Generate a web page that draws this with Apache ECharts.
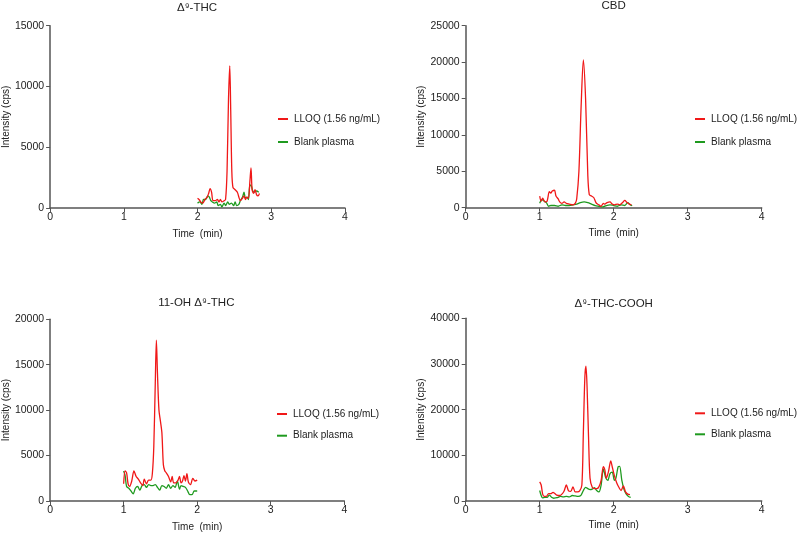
<!DOCTYPE html>
<html>
<head>
<meta charset="utf-8">
<script src="https://cdn.jsdelivr.net/npm/echarts@6/dist/echarts.min.js"></script>
<style>html,body{margin:0;padding:0;background:#fff}#c{width:800px;height:533px}</style>
</head>
<body>
<div id="c"></div>
<script>
// ---- Data (time in min, intensity in cps) ----
const seriesNames = ['LLOQ (1.56 ng/mL)', 'Blank plasma'];
const panelTitles = ['\u0394\u2079-THC', 'CBD', '11-OH \u0394\u2079-THC', '\u0394\u2079-THC-COOH'];
const yMax = [15000, 25000, 20000, 40000];
const yInterval = [5000, 5000, 5000, 10000];
const xTicks = [0, 1, 2, 3, 4];

// Δ9-THC
const thcLloqT = [2.00,2.02,2.05,2.07,2.10,2.13,2.15,2.17,2.19,2.21,2.24,2.27,2.29,2.31,2.33,2.36,2.38,2.40,2.42,2.437,2.45,2.465,2.48,2.51,2.54,2.56,2.58,2.61,2.63,2.65,2.67,2.69,2.71,2.725,2.74,2.76,2.78,2.80,2.82,2.84];
const thcLloqV = [800,700,450,400,700,900,1200,1600,1300,600,600,700,500,700,500,600,700,3000,9000,11700,8000,3000,1700,1500,1300,900,600,800,1000,700,900,800,2200,3300,1500,1200,1500,1100,1000,1200];
const thcBlankT = [2.00,2.03,2.06,2.08,2.11,2.14,2.16,2.18,2.20,2.23,2.26,2.28,2.31,2.33,2.36,2.38,2.41,2.43,2.46,2.49,2.51,2.53,2.56,2.58,2.61,2.63,2.65,2.67,2.69,2.71,2.73,2.75,2.77,2.80,2.83];
const thcBlankV = [400,500,300,700,700,1000,900,600,500,400,500,200,300,100,400,200,500,300,400,200,500,200,300,600,900,1300,800,900,700,1900,1800,1400,1300,1400,1300];

// CBD
const cbdLloqT = [1.00,1.02,1.04,1.07,1.10,1.13,1.15,1.17,1.20,1.22,1.25,1.27,1.30,1.33,1.36,1.40,1.45,1.48,1.50,1.53,1.56,1.59,1.62,1.65,1.67,1.70,1.73,1.76,1.78,1.80,1.83,1.86,1.88,1.91,1.95,1.98,2.01,2.05,2.08,2.12,2.15,2.18,2.21,2.24];
const cbdLloqV = [1600,900,1300,800,900,2200,2000,2300,2400,1600,1200,800,600,800,600,500,400,600,1200,5000,14000,20300,15000,4500,1800,1600,1400,700,500,400,200,600,500,700,800,500,400,500,400,700,1000,700,500,400];
const cbdBlankT = [1.00,1.03,1.06,1.09,1.12,1.15,1.20,1.25,1.30,1.35,1.40,1.45,1.50,1.55,1.60,1.65,1.70,1.75,1.80,1.85,1.90,1.95,2.00,2.05,2.10,2.15,2.19,2.22,2.25];
const cbdBlankV = [600,1100,900,700,200,300,300,200,400,300,300,400,500,700,800,700,500,300,200,100,300,400,300,200,400,300,700,400,300];

// 11-OH Δ9-THC
const ohLloqT = [1.00,1.02,1.04,1.06,1.08,1.11,1.14,1.17,1.20,1.23,1.26,1.28,1.31,1.34,1.37,1.39,1.41,1.43,1.445,1.46,1.48,1.50,1.52,1.54,1.56,1.58,1.61,1.64,1.66,1.68,1.71,1.74,1.76,1.78,1.80,1.82,1.84,1.86,1.88,1.91,1.94,1.97,2.00];
const ohLloqV = [1900,3300,3100,1900,1600,2200,3300,2700,2400,2000,1700,2400,1900,2300,2300,3000,6000,13000,17700,14000,10000,8800,7500,4000,3300,3100,2700,2100,2700,2000,2000,2300,2700,2000,2200,2800,2200,3000,2100,1800,2500,2200,2300];
const ohBlankT = [1.00,1.02,1.04,1.07,1.10,1.13,1.16,1.19,1.22,1.25,1.28,1.31,1.34,1.37,1.40,1.43,1.46,1.49,1.52,1.55,1.58,1.61,1.64,1.67,1.70,1.73,1.76,1.78,1.81,1.84,1.87,1.90,1.93,1.96,2.00];
const ohBlankV = [3300,2800,1600,1400,1100,800,1400,1600,1200,1700,1800,1500,1800,1700,1700,1800,1500,1200,1700,1600,1400,1800,1400,1700,1500,2200,1300,1700,1600,1500,1100,700,700,1100,1100];

// Δ9-THC-COOH
const coohLloqT = [1.00,1.02,1.04,1.06,1.09,1.12,1.15,1.18,1.20,1.23,1.27,1.30,1.33,1.36,1.39,1.42,1.45,1.48,1.51,1.54,1.57,1.59,1.61,1.625,1.64,1.66,1.68,1.71,1.74,1.77,1.80,1.83,1.86,1.88,1.90,1.93,1.96,1.98,2.01,2.04,2.07,2.10,2.13,2.16,2.19,2.22];
const coohLloqV = [4200,3500,1500,1000,1000,1600,1600,1900,1700,1300,1200,1500,2200,3500,2200,2100,3100,2000,2000,2200,3500,15000,27000,29500,25000,14000,5000,3000,2700,2700,3100,4500,7500,6800,5000,6500,8800,7500,5500,4000,3000,2300,3300,2000,1500,1400];
const coohBlankT = [1.00,1.02,1.04,1.07,1.10,1.13,1.16,1.19,1.22,1.25,1.28,1.32,1.36,1.40,1.44,1.48,1.52,1.56,1.59,1.62,1.65,1.68,1.71,1.74,1.77,1.80,1.83,1.86,1.89,1.92,1.95,1.98,2.01,2.03,2.06,2.08,2.11,2.14,2.17,2.20,2.23];
const coohBlankV = [2300,1200,700,800,800,1300,800,600,700,800,1000,900,1000,900,1200,1100,1000,1300,2300,3000,2700,2500,2600,2900,2300,2000,3500,7000,5200,4500,6000,6300,4500,5000,7500,7600,4500,2500,1500,1000,800];

// ---- Build option ----
function pairs(t, v) { return t.map((x, i) => [x, v[i]]); }
const panelData = [
  [pairs(thcLloqT, thcLloqV), pairs(thcBlankT, thcBlankV)],
  [pairs(cbdLloqT, cbdLloqV), pairs(cbdBlankT, cbdBlankV)],
  [pairs(ohLloqT, ohLloqV), pairs(ohBlankT, ohBlankV)],
  [pairs(coohLloqT, coohLloqV), pairs(coohBlankT, coohBlankV)]
];

const grids = [
  {left: 49, top: 25.7, width: 296, height: 182.3},
  {left: 465.7, top: 25.7, width: 296, height: 182},
  {left: 48.3, top: 319.3, width: 296, height: 182.4},
  {left: 465.7, top: 318.3, width: 296, height: 182.7}
];
const titlePos = [[197, 2], [613.7, 0], [196.3, 297], [613.7, 298]];
const legendPos = [[278, 114], [695, 114], [277, 409], [695, 408.3]];
const legendGap = [13, 13, 11.7, 11];
const xNameGap = [21, 21, 21, 19];
const FONT = '"Liberation Sans", Arial, sans-serif';
const TXT = '#222';
const AX = '#555';
const colors = ['#f01818', '#1f9a1f'];

const option = {
  animation: false,
  textStyle: {fontFamily: FONT},
  title: [], grid: [], xAxis: [], yAxis: [], legend: [], series: []
};

for (let i = 0; i < 4; i++) {
  option.grid.push(Object.assign({containLabel: false}, grids[i]));
  option.title.push({
    text: panelTitles[i], left: titlePos[i][0], top: titlePos[i][1], textAlign: 'center', padding: 0,
    textStyle: {fontSize: 11.5, fontWeight: 'normal', color: TXT, fontFamily: FONT}
  });
  option.xAxis.push({
    type: 'value', gridIndex: i, min: xTicks[0], max: xTicks[xTicks.length - 1], interval: 1,
    name: 'Time  (min)', nameLocation: 'middle', nameGap: xNameGap[i],
    nameTextStyle: {fontSize: 10, color: TXT, fontFamily: FONT},
    axisLine: {show: true, onZero: false, lineStyle: {color: AX, width: 1.5}},
    axisTick: {show: true, length: 4, lineStyle: {color: AX, width: 1}},
    axisLabel: {fontSize: 10.5, color: TXT, margin: 4, fontFamily: FONT, formatter: v => String(v)},
    splitLine: {show: false}
  });
  option.yAxis.push({
    type: 'value', gridIndex: i, min: 0, max: yMax[i], interval: yInterval[i],
    name: 'Intensity (cps)', nameLocation: 'middle', nameGap: 34,
    nameTextStyle: {fontSize: 10, color: TXT, fontFamily: FONT},
    axisLine: {show: true, lineStyle: {color: AX, width: 1.5}},
    axisTick: {show: true, length: 4, lineStyle: {color: AX, width: 1}},
    axisLabel: {fontSize: 10.5, color: TXT, margin: 6, fontFamily: FONT, formatter: v => String(v)},
    splitLine: {show: false}
  });
  option.legend.push({
    orient: 'vertical', left: legendPos[i][0], top: legendPos[i][1], itemGap: legendGap[i],
    padding: 0, itemWidth: 10, itemHeight: 2, icon: 'rect', selectedMode: false,
    data: seriesNames.slice(),
    textStyle: {fontSize: 10, color: TXT, fontFamily: FONT, padding: [0, 0, 0, 1]}
  });
  for (let s = 0; s < 2; s++) {
    option.series.push({
      type: 'line', name: seriesNames[s], xAxisIndex: i, yAxisIndex: i,
      data: panelData[i][s], showSymbol: false, symbol: 'none', smooth: 0.3,
      lineStyle: {color: colors[s], width: 1.3}, itemStyle: {color: colors[s]},
      z: s === 0 ? 3 : 2
    });
  }
}

const chart = echarts.init(document.getElementById('c'), null, {renderer: 'canvas'});
chart.setOption(option);
</script>
</body>
</html>
